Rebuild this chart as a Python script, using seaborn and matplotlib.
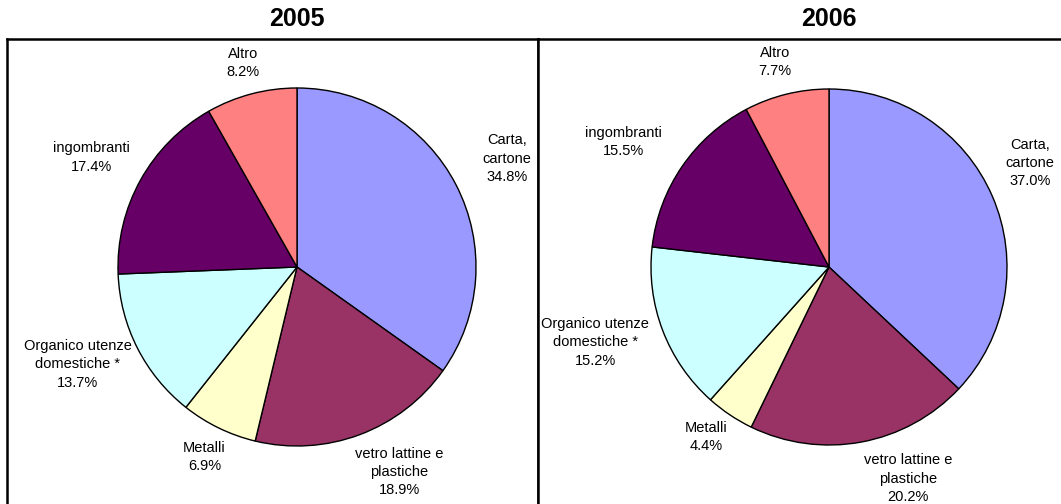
import numpy as np
import matplotlib
matplotlib.use("Agg")
import matplotlib.pyplot as plt
import seaborn as sns

# ---- data ----
categories = ["Carta,\ncartone", "vetro lattine e\nplastiche", "Metalli",
              "Organico utenze\ndomestiche *", "ingombranti", "Altro"]
years = ["2005", "2006"]
values_2005 = [34.8, 18.9, 6.9, 13.7, 17.4, 8.2]
values_2006 = [37.0, 20.2, 4.4, 15.2, 15.5, 7.7]
colors = ["#9999FF", "#993366", "#FFFFCC", "#CCFFFF", "#660066", "#FF8080"]

# ---- layout (pixels / factors) ----
W, H, DPI = 1061, 504, 100
label_dist = {
    "2005": [1.32, 1.28, 1.18, 1.34, 1.30, 1.18],
    "2006": [1.27, 1.27, 1.18, 1.38, 1.35, 1.19],
}
angle_nudge = {
    "2005": [0, 6, 0, -3, 1, 0],
    "2006": [4, 10, -2, -3, 3, 1],
}
panels = [
    # x0, x1, ytop, ybottom, pie cx, pie cy, radius px
    (7, 538, 39, 520, 297, 267, 179),
    (538, 1120, 39, 520, 829, 267, 178),
]

sns.set_theme(style="white")
plt.rcParams["font.family"] = ["Liberation Sans", "DejaVu Sans"]
plt.rcParams["text.color"] = "black"

fig = plt.figure(figsize=(W / DPI, H / DPI), dpi=DPI)

for year, vals, (x0, x1, yt, yb, cx, cy, r) in zip(years, [values_2005, values_2006], panels):
    ax = fig.add_axes([x0 / W, (H - yb) / H, (x1 - x0) / W, (yb - yt) / H])
    wedges, _ = ax.pie(vals, colors=colors, startangle=90, counterclock=False,
                       radius=1.0, center=(0, 0),
                       wedgeprops=dict(edgecolor="black", linewidth=1.0))
    ax.set_frame_on(True)
    ax.set_xlim((x0 - cx) / r, (x1 - cx) / r)
    ax.set_ylim((cy - yb) / r, (cy - yt) / r)
    ax.set_aspect("auto")
    for s in ax.spines.values():
        s.set_visible(True)
        s.set_color("black")
        s.set_linewidth(1.8)
    ax.set_xticks([])
    ax.set_yticks([])
    total = sum(vals)
    for i, (w, cat, v) in enumerate(zip(wedges, categories, vals)):
        ang = np.deg2rad((w.theta1 + w.theta2) / 2 + angle_nudge[year][i])
        d = label_dist[year][i]
        ax.text(d * np.cos(ang), d * np.sin(ang), f"{cat}\n{v / total * 100:.1f}%",
                ha="center", va="center", fontsize=10.5, color="black",
                linespacing=1.4, clip_on=False)
    ax.text(0, (cy - 19) / r, year, ha="center", va="center", fontsize=18,
            fontweight="bold", color="black", clip_on=False)

fig.savefig("out.png", dpi=DPI)
